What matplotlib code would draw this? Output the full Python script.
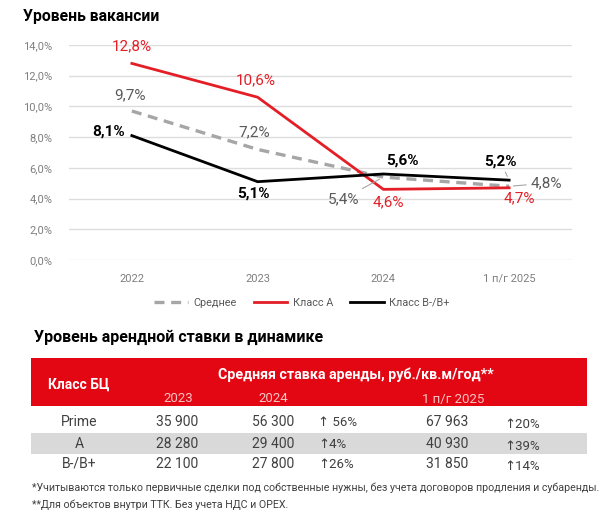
import matplotlib
matplotlib.use("Agg")
import matplotlib.pyplot as plt
from matplotlib.patches import Rectangle

plt.rcParams['font.family'] = ['Roboto', 'DejaVu Sans']

# данные графика вакансии
periods = ["2022", "2023", "2024", "1 п/г 2025"]
avg_rate = [9.7, 7.2, 5.4, 4.8]
class_a = [12.8, 10.6, 4.6, 4.7]
class_b = [8.1, 5.1, 5.6, 5.2]
y_ticks = [0, 2, 4, 6, 8, 10, 12, 14]

# данные таблицы ставок
table_classes = ["Prime", "A", "B-/B+"]
rent_2023 = ["35 900", "28 280", "22 100"]
rent_2024 = ["56 300", "29 400", "27 800"]
chg_2024 = ["↑ 56%", "↑4%", "↑26%"]
rent_2025 = ["67 963", "40 930", "31 850"]
chg_2025 = ["↑20%", "↑39%", "↑14%"]

RED = "#E41E26"
GREY = "#A6A6A6"
TXT = "#404040"

fig = plt.figure(figsize=(6.14, 5.17), dpi=100)

# chart axes (pixel box 69..572 x 45..260)
ax = fig.add_axes([69 / 614, 1 - 260 / 517, (572 - 69) / 614, (260 - 45) / 517])
x = list(range(len(periods)))
ax.plot(x, avg_rate, color=GREY, lw=2.4, dashes=(3, 2), label="Среднее", zorder=3)
ax.plot(x, class_a, color=RED, lw=2.0, label="Класс А", zorder=4)
ax.plot(x, class_b, color="black", lw=2.0, label="Класс В-/В+", zorder=5)

ax.set_xlim(-0.5, 3.5)
ax.set_ylim(0, 14)
ax.set_yticks(y_ticks)
ax.set_yticklabels([f"{v:.1f}%".replace(".", ",") for v in y_ticks])
ax.set_xticks(x)
ax.set_xticklabels(periods)
ax.grid(axis="y", color="#DDDDDD", lw=1)
ax.set_axisbelow(True)
for s in ax.spines.values():
    s.set_visible(False)
ax.tick_params(length=0, labelsize=8, colors="#7F7F7F")
ax.tick_params(axis="y", pad=12)
ax.tick_params(axis="x", pad=10)


def fmt(v):
    return f"{v:.1f}%".replace(".", ",")


# подписи значений (смещения в пикселях)
off_a = [(0, 17), (-2, 17), (5, -13), (10, -10)]
off_avg = [(-2, 16), (-3, 17), (-40, -22), (37, 3)]
off_b = [(-7, 4), (-4, -12), (19, 13), (-9, 19)]
lead_avg = [False, False, True, True]
lead_b = [False, False, False, True]

for i, v in enumerate(class_a):
    ax.annotate(fmt(v), (i, v), xytext=off_a[i], textcoords="offset pixels",
                ha="center", va="center", fontsize=11, color=RED, zorder=6)
for i, v in enumerate(avg_rate):
    ap = dict(arrowstyle="-", color=GREY, lw=0.8, shrinkA=1, shrinkB=3) if lead_avg[i] else None
    ax.annotate(fmt(v), (i, v), xytext=off_avg[i], textcoords="offset pixels",
                ha="center", va="center", fontsize=11, color="#595959",
                arrowprops=ap, zorder=6)
for i, v in enumerate(class_b):
    ap = dict(arrowstyle="-", color=GREY, lw=0.8, shrinkA=1, shrinkB=3) if lead_b[i] else None
    ax.annotate(fmt(v), (i, v), xytext=off_b[i], textcoords="offset pixels",
                ha="right" if i == 0 else "center", va="center", fontsize=11,
                fontweight="bold", color="black", arrowprops=ap, zorder=6)

ax.legend(loc="center", bbox_to_anchor=(302 / 614, 1 - 303 / 517),
          bbox_transform=fig.transFigure, ncol=3, frameon=False,
          fontsize=7.8, handlelength=3.1, handletextpad=0.5, columnspacing=1.6,
          labelcolor="#595959")

# overlay in pixel coordinates for titles and table
ov = fig.add_axes([0, 0, 1, 1])
ov.set_xlim(0, 614)
ov.set_ylim(517, 0)
ov.axis("off")
ov.patch.set_visible(False)

ov.text(23, 17, "Уровень вакансии", fontsize=11.3, fontweight="bold", va="center", ha="left")
ov.text(34, 337, "Уровень арендной ставки в динамике", fontsize=11.5,
        fontweight="bold", va="center", ha="left")

# таблица
ov.add_patch(Rectangle((31, 358), 556, 48, color="#E30613", lw=0))
ov.add_patch(Rectangle((31, 433), 556, 21, color="#D9D9D9", lw=0))
ov.text(79, 385, "Класс БЦ", color="white", fontsize=10, fontweight="bold", ha="center", va="center")
ov.text(356, 375, "Средняя ставка аренды, руб./кв.м/год**", color="white", fontsize=10.3,
        fontweight="bold", ha="center", va="center")
for xx, lab in zip([178, 273, 453], ["2023", "2024", "1 п/г 2025"]):
    ov.text(xx, 399, lab, color="#F6C4C4", fontsize=9.5, ha="center", va="center")

row_y = [422, 444, 464]
for j in range(len(table_classes)):
    yy = row_y[j]
    ov.text(79, yy, table_classes[j], color=TXT, fontsize=10, ha="center", va="center")
    ov.text(177, yy, rent_2023[j], color=TXT, fontsize=10, ha="center", va="center")
    ov.text(273, yy, rent_2024[j], color=TXT, fontsize=10, ha="center", va="center")
    ov.text(318, yy, chg_2024[j], color=TXT, fontsize=9.5, ha="left", va="center")
    ov.text(447, yy, rent_2025[j], color=TXT, fontsize=10, ha="center", va="center")
    ov.text(504, yy + 3, chg_2025[j], color=TXT, fontsize=9.5, ha="left", va="center")

ov.text(32, 488, "*Учитываются только первичные сделки под собственные нужны, без учета договоров продления и субаренды.",
        color=TXT, fontsize=7.7, ha="left", va="center")
ov.text(32, 505, "**Для объектов внутри ТТК. Без учета НДС и OPEX.",
        color=TXT, fontsize=7.7, ha="left", va="center")

fig.savefig("out.png", dpi=100)
